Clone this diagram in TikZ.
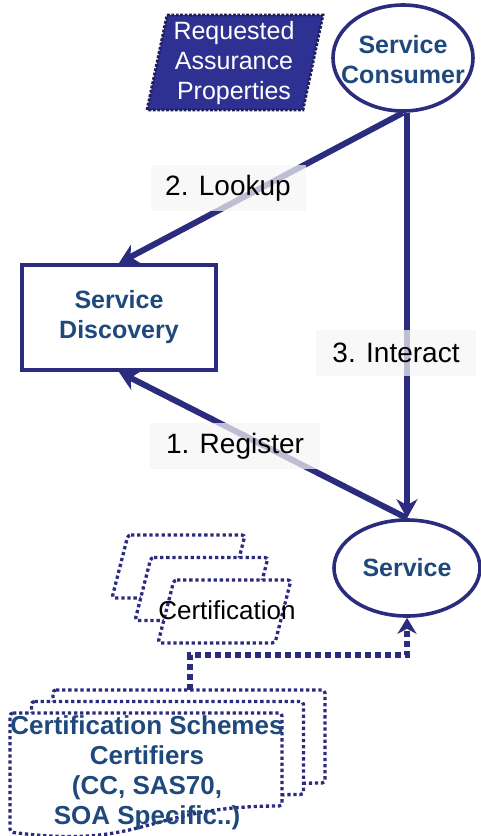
\documentclass[tikz,border=0pt]{standalone}
\usepackage{fontspec}
\setmainfont{Liberation Sans}
\usetikzlibrary{arrows.meta,shapes.geometric}

\definecolor{navy}{RGB}{44,44,126}
\definecolor{rapfill}{RGB}{46,49,146}
\definecolor{txtblue}{RGB}{31,73,125}

\begin{document}
\begin{tikzpicture}[x=1pt,y=-1pt,
  boldlbl/.style={font=\fontsize{25}{30}\selectfont\bfseries, text=txtblue, align=center, inner sep=0pt},
  ellnode/.style={ellipse, draw=navy, line width=3.6pt, fill=white, inner sep=0pt},
  flow/.style={draw=navy, line width=6pt, -{Stealth[length=19pt,width=21pt,inset=6pt]}},
  steplabel/.style={fill=white!96!black, fill opacity=0.72, text opacity=1,
    font=\fontsize{28}{30}\selectfont, inner sep=0pt, minimum height=46pt},
  dotline/.style={draw=navy, line width=3.3pt, dash pattern=on 3.3pt off 2.8pt,
    rounded corners=3pt, fill=white},
  certflow/.style={draw=navy, line width=6pt, dash pattern=on 6pt off 4pt,
    -{Stealth[length=16pt,width=19pt,inset=5pt]}},
]
\useasboundingbox (0,0) rectangle (481,836);

% requested properties (parallelogram)
\path[fill=rapfill, draw=navy!70!black, line width=2.8pt, dash pattern=on 2.8pt off 1.6pt]
  (167,15) -- (323,15) -- (303,110) -- (147,110) -- cycle;
\node[font=\fontsize{25}{30}\selectfont, text=white, align=center, inner sep=0pt]
  (rapText) at (234,63) {Requested\\Assurance\\Properties};

% main nodes
\node[ellnode, minimum width=140pt, minimum height=106pt] (cons) at (403,58) {};
\node[boldlbl] (consText) at (403,60) {Service\\Consumer};
\node[draw=navy, line width=4pt, fill=white, minimum width=194pt, minimum height=105pt,
  inner sep=0pt] (disc) at (119,317.5) {};
\node[boldlbl] (discText) at (disc.center) {Service\\Discovery};
\node[ellnode, minimum width=146pt, minimum height=96pt] (serv) at (407,568) {};
\node[boldlbl] (servText) at (serv.center) {Service};

% interactions
\draw[flow] (cons.south) -- (disc.north);
\draw[flow] (serv.north |- cons.south) -- (serv.north);
\draw[flow] (serv.north) -- (disc.south);

\node[steplabel, minimum width=155pt] (lk) at (228,188) {2. Lookup};
\node[steplabel, minimum width=160pt] (ia) at (396,353) {3. Interact};
\node[steplabel, minimum width=170pt] (rg) at (235,446) {1. Register};

% certification link
\coordinate (schemesTop) at (190,690);
\coordinate (elbow) at (190,655);
\draw[certflow] (schemesTop) -- (elbow) -| (serv.south);

% stacked certifications
\foreach \i in {0,1,2} {
  \path[dotline, shift={(23*\i,22.5*\i)}]
    (128,535) -- ++(117,0) -- ++(-16,63) -- ++(-117,0) -- cycle;
}
\node[font=\fontsize{26}{30}\selectfont, inner sep=0pt] (certText) at (227,610) {Certification};

% stacked scheme documents
\foreach \i in {2,1,0} {
  \path[dotline, shift={(21.5*\i,-11.5*\i)}]
    (10,713) -- (282,713) -- (282,806) .. controls (146,806) and (146,850) .. (10,832) -- cycle;
}
\node[boldlbl, font=\fontsize{26}{30}\selectfont\bfseries] (schemesText) at (147,772.5)
  {Certification Schemes\\Certifiers\\(CC, SAS70,\\SOA Specific..)};
\end{tikzpicture}
\end{document}
